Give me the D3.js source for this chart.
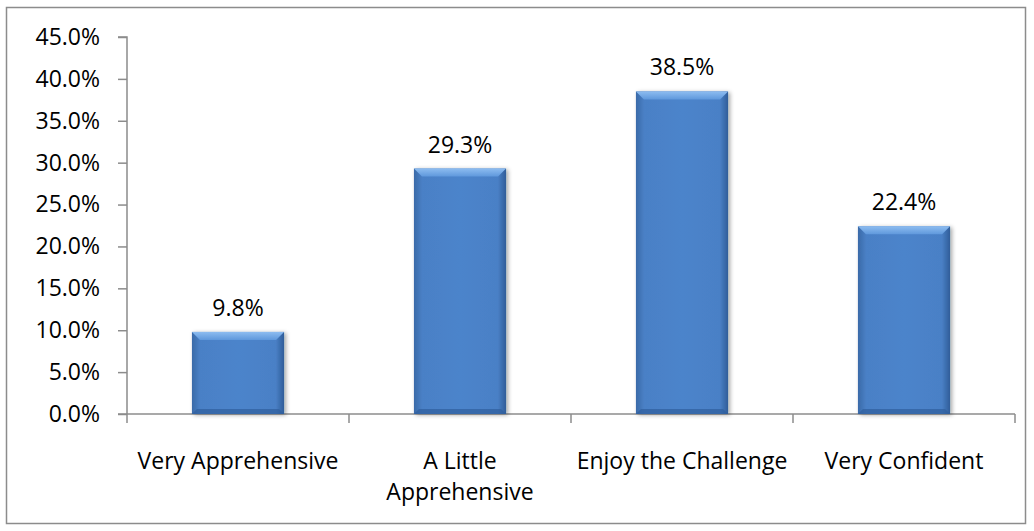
<!DOCTYPE html>
<html>
<head>
<meta charset="utf-8">
<script src="https://cdn.jsdelivr.net/npm/d3@7/dist/d3.min.js"></script>
<style>
  body { margin: 0; background: #fff; }
  text { font-family: "Open Sans", "Liberation Sans", sans-serif; fill: #000; }
</style>
</head>
<body>
<div id="chart"></div>
<script>
// categories and values (share of respondents)
var categories = ["Very Apprehensive", "A Little Apprehensive", "Enjoy the Challenge", "Very Confident"];
var labelLines = [["Very Apprehensive"], ["A Little", "Apprehensive"], ["Enjoy the Challenge"], ["Very Confident"]];
var values = [0.098, 0.293, 0.385, 0.224];
var yTicks = [0, 0.05, 0.10, 0.15, 0.20, 0.25, 0.30, 0.35, 0.40, 0.45];

var width = 1034, height = 531;
var plot = {left: 127, right: 1015, top: 37, bottom: 414};
var fontSize = "23px";

var svg = d3.select("#chart").append("svg")
    .attr("width", width)
    .attr("height", height);

// outer frame
svg.append("rect")
    .attr("x", 6.5).attr("y", 7.5)
    .attr("width", 1019).attr("height", 516)
    .attr("fill", "none")
    .attr("stroke", "#8c8c8c")
    .attr("stroke-width", 1.5);

var x = d3.scaleBand()
    .domain(categories)
    .range([plot.left, plot.right])
    .paddingInner(0.585)
    .paddingOuter(0.2925);

var y = d3.scaleLinear()
    .domain([0, 0.45])
    .range([plot.bottom, plot.top]);

var fmt = d3.format(".1%");

//gradients for the bevelled bars
var defs = svg.append("defs");
var body = defs.append("linearGradient").attr("id", "barBody")
    .attr("x1", 0).attr("x2", 1).attr("y1", 0).attr("y2", 0);
body.append("stop").attr("offset", "0%").attr("stop-color", "#3a6aa8");
body.append("stop").attr("offset", "9%").attr("stop-color", "#4a80c6");
body.append("stop").attr("offset", "50%").attr("stop-color", "#4c84cb");
body.append("stop").attr("offset", "91%").attr("stop-color", "#4a80c6");
body.append("stop").attr("offset", "100%").attr("stop-color", "#2f5d99");

var bevel = defs.append("linearGradient").attr("id", "barTop")
    .attr("x1", 0).attr("x2", 0).attr("y1", 0).attr("y2", 1);
bevel.append("stop").attr("offset", "0%").attr("stop-color", "#8dbcf0");
bevel.append("stop").attr("offset", "100%").attr("stop-color", "#5f98dc");

var shadow = defs.append("filter").attr("id", "shadow")
    .attr("x", "-20%").attr("y", "-20%").attr("width", "140%").attr("height", "140%");
shadow.append("feDropShadow")
    .attr("dx", 2).attr("dy", 1).attr("stdDeviation", 2)
    .attr("flood-color", "#000").attr("flood-opacity", 0.35);

// y axis
var yAxis = svg.append("g")
    .attr("transform", "translate(" + plot.left + ",0)")
    .call(d3.axisLeft(y).tickValues(yTicks).tickFormat(fmt).tickSize(9).tickPadding(18));
yAxis.select(".domain").attr("stroke", "#8c8c8c").attr("stroke-width", 1.5)
    .attr("d", "M-9," + plot.top + "H0V" + plot.bottom);
yAxis.selectAll(".tick line").attr("stroke", "#8c8c8c").attr("stroke-width", 1.5);
yAxis.selectAll(".tick text").style("font-size", fontSize);

// x axis
var xAxisG = svg.append("g").attr("transform", "translate(0," + plot.bottom + ")");
xAxisG.append("line")
    .attr("x1", plot.left - 9).attr("x2", plot.right)
    .attr("stroke", "#8c8c8c").attr("stroke-width", 1.5);
var bounds = [plot.left].concat(categories.map(function(c){ return x(c) + x.bandwidth() + x.step() * x.paddingInner() / 2; }));
xAxisG.selectAll(".xtick").data(bounds).enter().append("line")
    .attr("x1", function(d){ return d; }).attr("x2", function(d){ return d; })
    .attr("y1", 0).attr("y2", 9)
    .attr("stroke", "#8c8c8c").attr("stroke-width", 1.5);

var xl = xAxisG.selectAll(".xlabel").data(categories).enter().append("text")
    .attr("class", "xlabel")
    .attr("text-anchor", "middle")
    .style("font-size", fontSize)
    .attr("x", function(d){ return x(d) + x.bandwidth() / 2; })
    .attr("y", 55);
xl.selectAll("tspan").data(function(d, i){ return labelLines[i]; }).enter().append("tspan")
    .attr("x", function(){ var c = d3.select(this.parentNode).datum(); return x(c) + x.bandwidth() / 2; })
    .attr("dy", function(d, i){ return i === 0 ? 0 : 31; })
    .text(function(d){ return d; });

// bars
var bars = svg.append("g").selectAll(".bar")
    .data(categories).enter().append("g")
    .attr("class", "bar");

bars.append("rect")
    .attr("x", function(d){ return x(d); })
    .attr("y", function(d, i){ return y(values[i]); })
    .attr("width", x.bandwidth())
    .attr("height", function(d, i){ return y(0) - y(values[i]); })
    .attr("fill", "url(#barBody)")
    .attr("filter", "url(#shadow)");

// top bevel
bars.append("path")
    .attr("d", function(d, i){
        var x0 = x(d), x1 = x0 + x.bandwidth(), t = y(values[i]), b = 8;
        return "M" + x0 + "," + t + "H" + x1 + "L" + (x1 - b) + "," + (t + b) + "H" + (x0 + b) + "Z";
    })
    .attr("fill", "url(#barTop)");

// bottom bevel
bars.append("path")
    .attr("d", function(d, i){
        var x0 = x(d), x1 = x0 + x.bandwidth(), t = y(0), b = 5;
        return "M" + x0 + "," + t + "H" + x1 + "L" + (x1 - b) + "," + (t - b) + "H" + (x0 + b) + "Z";
    })
    .attr("fill", "#2f5e9c")
    .attr("opacity", 0.7);

// value labels
svg.append("g").selectAll(".vlabel")
    .data(categories).enter().append("text")
    .attr("text-anchor", "middle")
    .style("font-size", fontSize)
    .attr("x", function(d){ return x(d) + x.bandwidth() / 2; })
    .attr("y", function(d, i){ return y(values[i]) - 16; })
    .text(function(d, i){ return fmt(values[i]); });
</script>
</body>
</html>
